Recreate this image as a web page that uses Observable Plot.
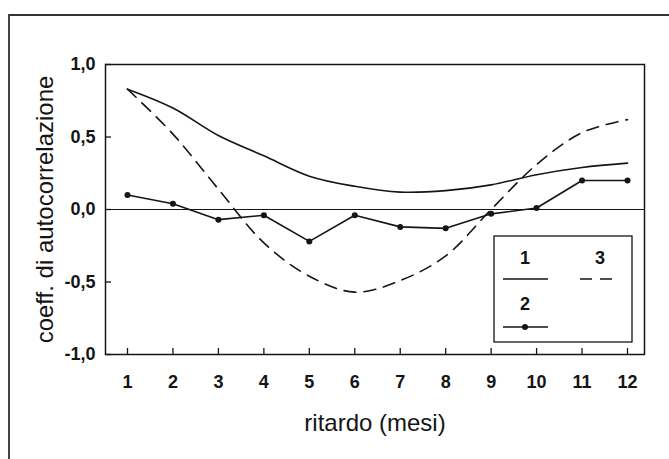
<!DOCTYPE html>
<html>
<head>
<meta charset="utf-8">
<script src="https://cdn.jsdelivr.net/npm/d3@7"></script>
<script src="https://cdn.jsdelivr.net/npm/@observablehq/plot@0.6"></script>
<style>
  html, body { margin: 0; padding: 0; background: #fff; }
  #wrap { position: relative; width: 669px; height: 459px; overflow: hidden; font-family: "Liberation Sans", Arial, sans-serif; }
  #border { position: absolute; left: 8px; top: 14px; width: 700px; height: 500px; border-left: 2px solid #444; border-top: 2px solid #333; }
  #chart { position: absolute; left: 0; top: 0; }
  #legendbox { position: absolute; left: 0; top: 0; }
</style>
</head>
<body>
<div id="wrap">
  <div id="border"></div>
  <div id="chart"></div>
  <svg id="legendbox" width="669" height="459"></svg>
</div>
<script>
// Data
const lags = [1, 2, 3, 4, 5, 6, 7, 8, 9, 10, 11, 12];
const series1 = [0.83, 0.70, 0.51, 0.37, 0.23, 0.16, 0.12, 0.13, 0.17, 0.24, 0.29, 0.32];
const series2 = [0.10, 0.04, -0.07, -0.04, -0.22, -0.04, -0.12, -0.13, -0.03, 0.01, 0.20, 0.20];
const series3 = [0.83, 0.52, 0.14, -0.23, -0.46, -0.57, -0.49, -0.32, 0.0, 0.31, 0.53, 0.62];
const yTicks = [-1, -0.5, 0, 0.5, 1];
const yTickLabels = ["-1,0", "-0,5", "0,0", "0,5", "1,0"];
const seriesNames = ["1", "2", "3"];
const xTitle = "ritardo (mesi)";
const yTitle = "coeff. di autocorrelazione";

const d1 = lags.map((x, i) => ({x, y: series1[i]}));
const d2 = lags.map((x, i) => ({x, y: series2[i]}));
const d3s = lags.map((x, i) => ({x, y: series3[i]}));

const W = 669, H = 459;
const mL = 105, mR = 25, mT = 64, mB = 105;
const innerW = W - mL - mR, innerH = H - mT - mB;
const ink = "#151515";

const chart = Plot.plot({
  width: W, height: H,
  marginLeft: mL, marginRight: mR, marginTop: mT, marginBottom: mB,
  x: {domain: [0.516, 12.374]},
  y: {domain: [-1, 1]},
  style: {fontFamily: "'Liberation Sans', Arial, sans-serif", color: ink, background: "transparent"},
  marks: [
    Plot.frame({stroke: ink, strokeWidth: 1.5}),
    Plot.ruleY([0], {stroke: ink, strokeWidth: 1.2}),
    Plot.tickX(lags, {x: d => d, insetTop: innerH - 6, stroke: ink, strokeWidth: 1.3}),
    Plot.tickY(yTicks, {y: d => d, insetRight: innerW - 6, stroke: ink, strokeWidth: 1.3}),
    Plot.axisX(lags, {tickSize: 0, tickPadding: 21, fontSize: 18, fontWeight: "bold", label: null, tickFormat: d => String(d)}),
    Plot.axisX({ticks: [], tickSize: 0, label: xTitle, labelAnchor: "center", labelOffset: 76, fontSize: 24, labelArrow: "none"}),
    Plot.axisY(yTicks, {tickSize: 0, tickPadding: 10, fontSize: 18, fontWeight: "bold", label: null, tickFormat: d => yTickLabels[yTicks.indexOf(d)]}),
    Plot.axisY({ticks: [], tickSize: 0, label: yTitle, labelAnchor: "center", labelOffset: 70, fontSize: 24, labelArrow: "none"}),
    Plot.line(d1, {x: "x", y: "y", curve: "catmull-rom", stroke: ink, strokeWidth: 1.6}),
    Plot.line(d3s, {x: "x", y: "y", curve: "catmull-rom", stroke: ink, strokeWidth: 1.6, strokeDasharray: "12,8"}),
    Plot.line(d2, {x: "x", y: "y", stroke: ink, strokeWidth: 1.6}),
    Plot.dot(d2, {x: "x", y: "y", r: 3, fill: ink})
  ]
});
document.getElementById("chart").appendChild(chart);

// Legend box
const NS = "http://www.w3.org/2000/svg";
const lg = document.getElementById("legendbox");
function el(tag, attrs) {
  const e = document.createElementNS(NS, tag);
  for (const k in attrs) e.setAttribute(k, attrs[k]);
  lg.appendChild(e);
  return e;
}
el("rect", {x: 494, y: 236, width: 138, height: 106, fill: "#fff", stroke: ink, "stroke-width": 1.3});
const items = [
  {name: seriesNames[0], cx: 525, ty: 264, ly: 279, x1: 503, x2: 548, dash: null, dot: false},
  {name: seriesNames[2], cx: 600, ty: 264, ly: 279, x1: 580, x2: 617, dash: "12,8", dot: false},
  {name: seriesNames[1], cx: 525, ty: 310, ly: 327, x1: 503, x2: 548, dash: null, dot: true}
];
items.forEach(it => {
  const t = el("text", {x: it.cx, y: it.ty, "text-anchor": "middle", "font-size": 18, "font-weight": "bold",
    fill: ink, "font-family": "'Liberation Sans', Arial, sans-serif"});
  t.textContent = it.name;
  const a = {x1: it.x1, x2: it.x2, y1: it.ly, y2: it.ly, stroke: ink, "stroke-width": 1.5};
  if (it.dash) a["stroke-dasharray"] = it.dash;
  el("line", a);
  if (it.dot) el("circle", {cx: it.cx, cy: it.ly, r: 3, fill: ink});
});
</script>
</body>
</html>
